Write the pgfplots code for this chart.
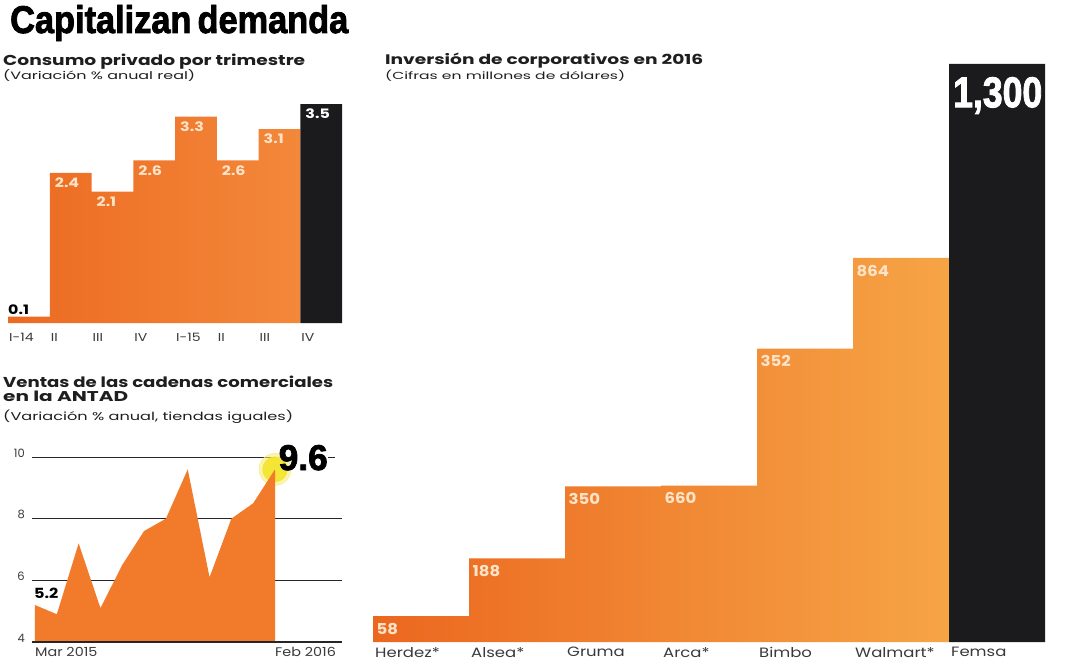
\documentclass[border=0pt]{standalone}
\usepackage{pgfplots}
\pgfplotsset{compat=1.18}
\usepackage{fontspec}
\setmainfont{Poppins}
\newfontfamily\heavyfont{Liberation Sans Bold}[FakeBold=2.2]
\newcommand\stretchx[2][1.22]{\scalebox{#1}[1]{#2}}
\definecolor{oraL}{HTML}{EB671F}
\definecolor{oraR}{HTML}{F6A446}
\definecolor{oraTL}{HTML}{EC6A22}
\definecolor{oraTR}{HTML}{F3883A}
\definecolor{oraA}{HTML}{F17A2B}
\definecolor{barblack}{HTML}{1B1B1D}
\definecolor{lbl}{HTML}{FDE4C8}
\definecolor{txt}{HTML}{1E1E1E}
\definecolor{tick}{HTML}{3A3A3A}
\definecolor{glow}{HTML}{F4E431}
\definecolor{glowout}{HTML}{F6EC7A}

\pgfplotstableread{
x y
0 58
1 188
2 350
3 352
4 660
5 864
6 864
}\inversion

\pgfplotstableread{
x y
0 0.1
1 2.4
2 2.1
3 2.6
4 3.3
5 2.6
6 3.1
7 3.1
}\consumo

\pgfplotstableread{
x y
0 5.2
1 4.9
2 7.2
3 5.1
4 6.5
5 7.6
6 8.0
7 9.6
8 6.1
9 8.0
10 8.5
11 9.6
}\antad

\begin{document}
\begin{tikzpicture}
\path[use as bounding box] (0pt,0pt) rectangle (1081pt,-666pt);

% ---- headings
\node[anchor=base west, inner sep=0pt, text=black] at (10pt,-33pt)
  {\resizebox{338pt}{28pt}{\heavyfont Capitalizan\kern-0.1em\ demanda}};
\node[anchor=base west, inner sep=0pt, text=txt] at (3pt,-66pt)
  {\resizebox{302pt}{11.5pt}{\bfseries Consumo privado por trimestre}};
\node[anchor=base west, inner sep=0pt, text=txt] at (3pt,-80pt)
  {\resizebox{192pt}{10pt}{(Variación \% anual real)}};
\node[anchor=base west, inner sep=0pt, text=txt] at (385pt,-65pt)
  {\resizebox{318pt}{11.5pt}{\bfseries Inversión de corporativos en 2016}};
\node[anchor=base west, inner sep=0pt, text=txt] at (385pt,-80pt)
  {\resizebox{240pt}{9.5pt}{(Cifras en millones de dólares)}};
\node[anchor=base west, inner sep=0pt, text=txt] at (3pt,-387pt)
  {\resizebox{330pt}{11.5pt}{\bfseries Ventas de las cadenas comerciales}};
\node[anchor=base west, inner sep=0pt, text=txt] at (3pt,-401pt)
  {\resizebox{125pt}{10.5pt}{\bfseries en la ANTAD}};
\node[anchor=base west, inner sep=0pt, text=txt] at (3pt,-420pt)
  {\resizebox{290pt}{10.5pt}{(Variación \% anual, tiendas iguales)}};

% ---- top-left: consumo privado
\begin{axis}[
  at={(8pt,-323pt)}, anchor=south west, scale only axis,
  width=334pt, height=219pt,
  xmin=0, xmax=8, ymin=0, ymax=3.5,
  axis line style={draw=none}, ytick=\empty,
  xtick={0,...,7},
  xticklabels={\stretchx{I-14},\stretchx{II},\stretchx{III},\stretchx{IV},\stretchx{I-15},\stretchx{II},\stretchx{III},\stretchx{IV}},
  major tick length=0pt,
  xticklabel style={anchor=north west, inner sep=0pt, yshift=-10pt, xshift=1pt,
    font=\fontsize{11.5}{11.5}\selectfont, text=tick},
  clip=false,
]
\addplot[const plot mark left, draw=none, left color=oraTL, right color=oraTR] table[x=x,y=y]{\consumo} \closedcycle;
\addplot[const plot mark left, draw=none, fill=barblack] coordinates {(7,3.5)(8,3.5)} \closedcycle;
\begin{scope}[every node/.style={anchor=north west, inner sep=0pt, text=lbl, font=\fontsize{13}{13}\selectfont\bfseries, xshift=5pt, yshift=-5pt}]
\node at (axis cs:1,2.4) {\stretchx{2.4}};
\node at (axis cs:2,2.1) {\stretchx{2.1}};
\node at (axis cs:3,2.6) {\stretchx{2.6}};
\node at (axis cs:4,3.3) {\stretchx{3.3}};
\node at (axis cs:5,2.6) {\stretchx{2.6}};
\node at (axis cs:6,3.1) {\stretchx{3.1}};
\node[text=white] at (axis cs:7,3.5) {\stretchx{3.5}};
\end{scope}
\node[anchor=south west, inner sep=0pt, yshift=2pt, text=black, font=\fontsize{13}{13}\selectfont\bfseries] at (axis cs:0,0.1) {\stretchx{0.1}};
\end{axis}

% ---- bottom-left: ANTAD
\begin{axis}[
  at={(32pt,-642pt)}, anchor=south west, scale only axis,
  width=310pt, height=185pt,
  xmin=-0.1375, xmax=14.07, ymin=4, ymax=10,
  axis line style={draw=none},
  ytick={4,6,8}, ymajorgrids,
  extra y ticks={10}, extra y tick style={grid=none},
  grid style={black!85, line width=0.9pt},
  major tick length=0pt,
  /pgf/number format/assume math mode=true,
  xtick={0,11}, xticklabels={\stretchx[1.15]{Mar 2015},\stretchx[1.15]{Feb 2016}},
  xticklabel style={anchor=north west, inner sep=0pt, yshift=-5pt,
    font=\fontsize{12.5}{12.5}\selectfont, text=tick},
  yticklabel style={anchor=base east, inner sep=0pt, xshift=-7pt,
    font=\fontsize{11.5}{11.5}\selectfont, text=tick},
  clip mode=individual,
]
\draw[black!85, line width=0.9pt] (rel axis cs:0,1) -- (axis cs:11.1,10);
\draw[black!85, line width=0.9pt] (axis cs:13.43,10) -- (axis cs:13.75,10);
\addplot[glowout, only marks, mark=*, mark size=16pt, mark options={draw=none, fill=glowout, fill opacity=0.6}] coordinates {(11,9.6)};
\addplot[glow, only marks, mark=*, mark size=12.5pt, mark options={draw=none, fill=glow, fill opacity=0.95}] coordinates {(11,9.6)};
\addplot[draw=none, fill=oraA] table[x=x,y=y]{\antad} \closedcycle;
\draw[black!85, line width=1.2pt] (rel axis cs:0,0) -- (rel axis cs:1,0);
\node[anchor=south west, inner sep=0pt, yshift=6pt, xshift=-1pt, text=black, font=\fontsize{14}{14}\selectfont\bfseries] at (axis cs:0,5.2) {\stretchx[1.15]{5.2}};
\coordinate (p96) at (axis cs:11,10);
\end{axis}
\node[anchor=base west, inner sep=0pt, xshift=3.5pt, yshift=-13pt] at (p96)
  {\resizebox{49pt}{25pt}{\heavyfont 9.6}};

% ---- right: inversion
\begin{axis}[
  at={(373pt,-642pt)}, anchor=south west, scale only axis,
  width=672pt, height=578pt,
  xmin=0, xmax=7, ymin=0, ymax=1300,
  axis line style={draw=none}, ytick=\empty,
  xtick={0,...,6},
  xticklabels={\stretchx{Herdez*},\stretchx{Alsea*},\stretchx{Gruma},\stretchx{Arca*},\stretchx{Bimbo},\stretchx{Walmart*},\stretchx{Femsa}},
  major tick length=0pt,
  xticklabel style={anchor=north west, inner sep=0pt, yshift=-5pt, xshift=2pt,
    font=\fontsize{13.5}{13.5}\selectfont, text=tick},
  clip=false,
]
\addplot[const plot mark left, draw=none, left color=oraL, right color=oraR] table[x=x,y=y]{\inversion} \closedcycle;
\addplot[const plot mark left, draw=none, fill=barblack] coordinates {(6,1300)(7,1300)} \closedcycle;
\begin{scope}[every node/.style={anchor=north west, inner sep=0pt, text=lbl, font=\fontsize{15}{15}\selectfont\bfseries, xshift=3.5pt, yshift=-7pt}]
\node at (axis cs:0,58) {\stretchx[1.1]{58}};
\node at (axis cs:1,188) {\stretchx[1.1]{188}};
\node at (axis cs:2,350) {\stretchx[1.1]{350}};
\node at (axis cs:3,352) {\stretchx[1.1]{660}};
\node at (axis cs:4,660) {\stretchx[1.1]{352}};
\node at (axis cs:5,864) {\stretchx[1.1]{864}};
\end{scope}
\node[anchor=north west, inner sep=0pt, text=white, xshift=4pt, yshift=-13pt] at (axis cs:6,1300)
  {\resizebox{89pt}{30pt}{\heavyfont 1,300}};
\end{axis}
\end{tikzpicture}
\end{document}
